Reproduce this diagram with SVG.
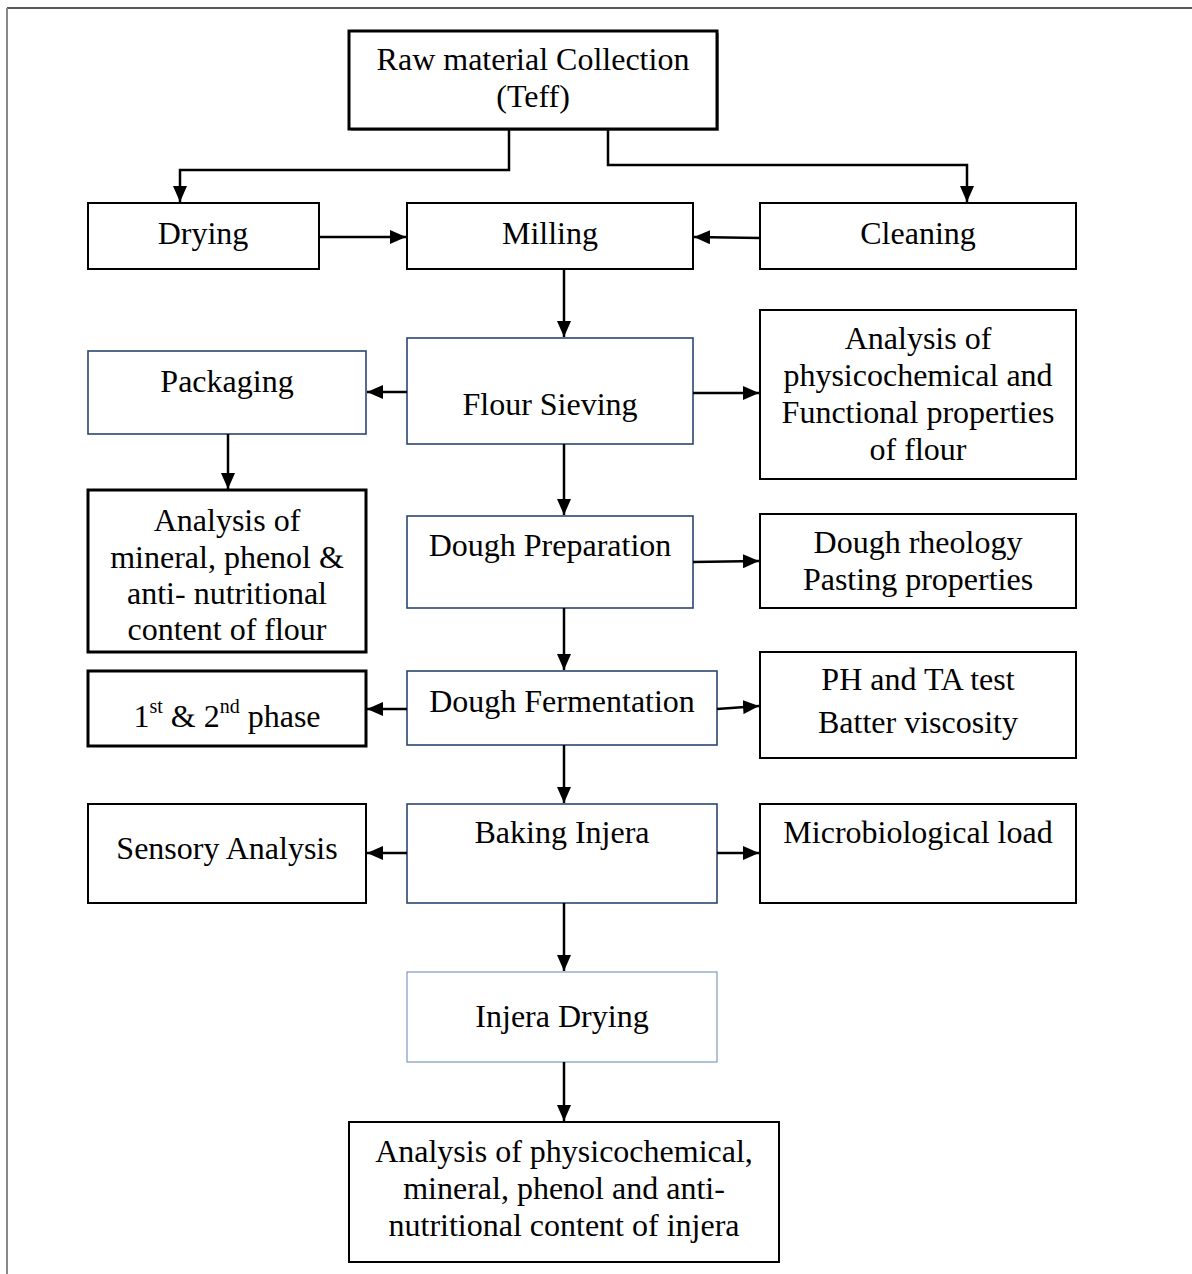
<svg xmlns="http://www.w3.org/2000/svg" width="1192" height="1274" viewBox="0 0 1192 1274">
<defs>
<marker id="ah" markerWidth="16" markerHeight="14" refX="16" refY="7" orient="auto" markerUnits="userSpaceOnUse">
<path d="M0,0 L16,7 L0,14 Z" fill="#000"/>
</marker>
<style>
.t{font-family:"Liberation Serif","Times New Roman",serif;font-size:32px;fill:#000;text-anchor:middle}
.b{fill:#fff;stroke:#000;stroke-width:2}
.k{fill:#fff;stroke:#000;stroke-width:3}
.u{fill:#fff;stroke:#2a4670;stroke-width:1.6}
.lu{fill:#fff;stroke:#7f99bd;stroke-width:1.2}
.c{fill:none;stroke:#000;stroke-width:2.5;marker-end:url(#ah)}
.sup{font-size:20px}
</style>
</defs>
<rect width="1192" height="1274" fill="#fff"/>
<g id="frame">
<line x1="7" y1="8" x2="1192" y2="8" stroke="#222" stroke-width="1.5"/>
<line x1="7" y1="8" x2="7" y2="1274" stroke="#888" stroke-width="2"/>
</g>
<g id="raw">
<rect x="351" y="33" width="368" height="98" fill="#999"/>
<rect x="349" y="31" width="368" height="98" class="k"/>
<text class="t" x="533" y="70">Raw material Collection</text>
<text class="t" x="533" y="107">(Teff)</text>
</g>
<g id="drying"><rect x="88" y="203" width="231" height="66" class="b"/><text class="t" x="203" y="244">Drying</text></g>
<g id="milling"><rect x="407" y="203" width="286" height="66" class="b"/><text class="t" x="550" y="244">Milling</text></g>
<g id="cleaning"><rect x="760" y="203" width="316" height="66" class="b"/><text class="t" x="918" y="244">Cleaning</text></g>
<g id="sieving"><rect x="407" y="338" width="286" height="106" class="u"/><text class="t" x="550" y="415">Flour Sieving</text></g>
<g id="packaging"><rect x="88" y="351" width="278" height="83" class="u"/><text class="t" x="227" y="392">Packaging</text></g>
<g id="analysis-flour">
<rect x="760" y="310" width="316" height="169" class="b"/>
<text class="t" x="918" y="349">Analysis of</text>
<text class="t" x="918" y="386">physicochemical and</text>
<text class="t" x="918" y="423">Functional properties</text>
<text class="t" x="918" y="460">of flour</text>
</g>
<g id="analysis-mineral">
<rect x="88" y="490" width="278" height="162" class="k"/>
<text class="t" x="227" y="531">Analysis of</text>
<text class="t" x="227" y="568">mineral, phenol &amp;</text>
<text class="t" x="227" y="604">anti- nutritional</text>
<text class="t" x="227" y="640">content of flour</text>
</g>
<g id="dough-prep"><rect x="407" y="516" width="286" height="92" class="u"/><text class="t" x="550" y="556">Dough Preparation</text></g>
<g id="rheology">
<rect x="760" y="514" width="316" height="94" class="b"/>
<text class="t" x="918" y="553">Dough rheology</text>
<text class="t" x="918" y="590">Pasting properties</text>
</g>
<g id="fermentation"><rect x="407" y="671" width="310" height="74" class="u"/><text class="t" x="562" y="712">Dough Fermentation</text></g>
<g id="phase"><rect x="88" y="671" width="278" height="75" class="k"/><text class="t" x="227" y="727">1<tspan class="sup" dy="-14">st</tspan><tspan dy="14"> &amp; 2</tspan><tspan class="sup" dy="-14">nd</tspan><tspan dy="14"> phase</tspan></text></g>
<g id="ph">
<rect x="760" y="652" width="316" height="106" class="b"/>
<text class="t" x="918" y="690">PH and TA test</text>
<text class="t" x="918" y="733">Batter viscosity</text>
</g>
<g id="baking"><rect x="407" y="804" width="310" height="99" class="u"/><text class="t" x="562" y="843">Baking Injera</text></g>
<g id="sensory"><rect x="88" y="804" width="278" height="99" class="b"/><text class="t" x="227" y="859">Sensory Analysis</text></g>
<g id="micro"><rect x="760" y="804" width="316" height="99" class="b"/><text class="t" x="918" y="843">Microbiological load</text></g>
<g id="injera-drying"><rect x="407" y="972" width="310" height="90" class="lu"/><text class="t" x="562" y="1027">Injera Drying</text></g>
<g id="final">
<rect x="349" y="1122" width="430" height="140" class="b"/>
<text class="t" x="564" y="1162">Analysis of physicochemical,</text>
<text class="t" x="564" y="1199">mineral, phenol and anti-</text>
<text class="t" x="564" y="1236">nutritional content of injera</text>
</g>
<g id="connectors">
<path class="c" d="M509,129 V170 H180 V202"/>
<path class="c" d="M608,129 V165 H967 V202"/>
<path class="c" d="M319,237 H406"/>
<path class="c" d="M760,238 L694,237"/>
<path class="c" d="M564,269 V337"/>
<path class="c" d="M407,392 H367"/>
<path class="c" d="M693,393 H759"/>
<path class="c" d="M228,434 V489"/>
<path class="c" d="M564,444 V515"/>
<path class="c" d="M693,562 L759,561"/>
<path class="c" d="M564,608 V670"/>
<path class="c" d="M407,709 H367"/>
<path class="c" d="M717,709 L759,706"/>
<path class="c" d="M564,745 V803"/>
<path class="c" d="M407,853 H367"/>
<path class="c" d="M717,853 H759"/>
<path class="c" d="M564,903 V971"/>
<path class="c" d="M564,1062 V1121"/>
</g>
</svg>
